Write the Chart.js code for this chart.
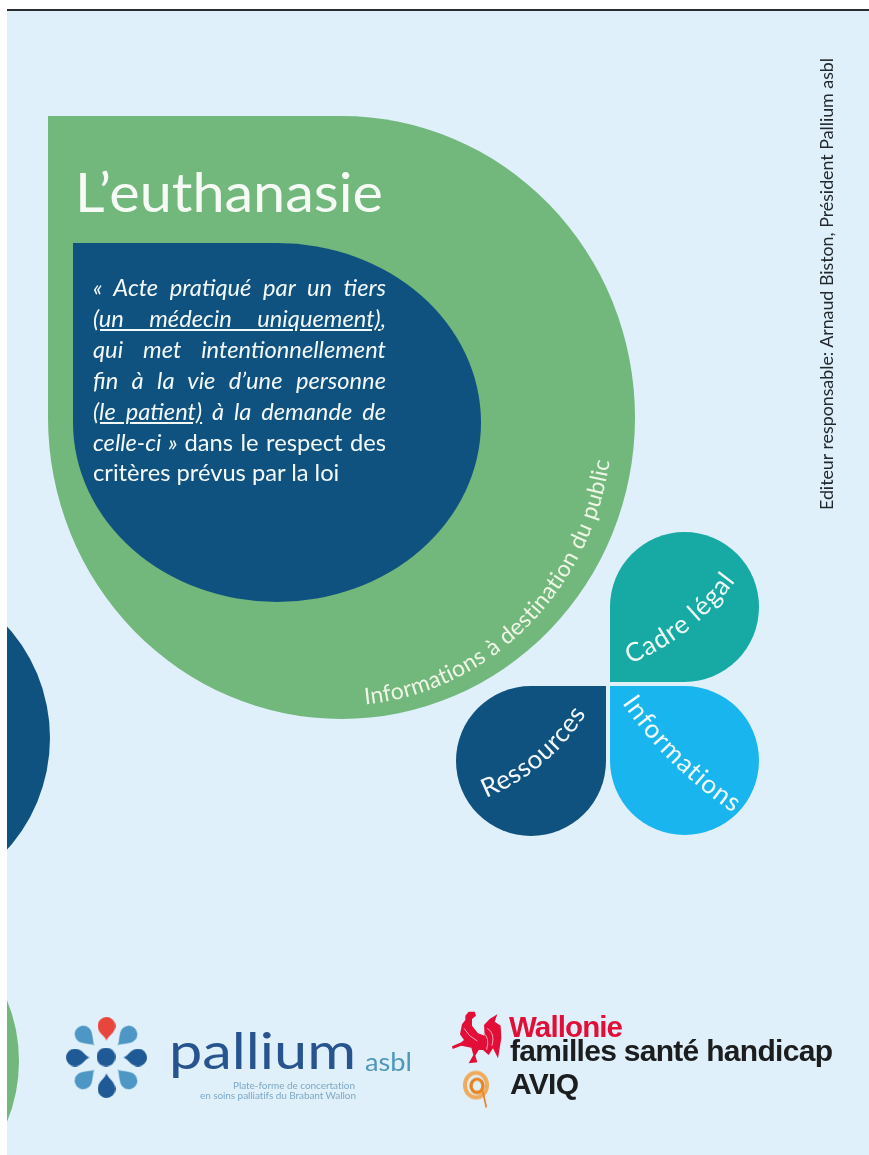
<!DOCTYPE html>
<html lang="fr">
<head>
<meta charset="utf-8">
<title>L'euthanasie</title>
<script src="https://cdn.jsdelivr.net/npm/chart.js@4"></script>
<style>
html, body { margin: 0; padding: 0; background: #fff; }
#page { position: relative; width: 869px; height: 1155px; overflow: hidden; font-variant-ligatures: none; }
#page canvas { position: absolute; left: 0; top: 0; }
#rule { position: absolute; left: 7px; top: 9px; width: 862px; height: 2px; background: #2a2d30; }
#labels { position: absolute; left: 0; top: 0; }
.ln { position: absolute; left: 93px; width: 293px; color: #f4fafa; font: italic 23.7px/26px Lato, sans-serif; white-space: nowrap; text-align: justify; text-align-last: justify; }
.ln.last { text-align-last: left; }
.ln span { font-style: normal; }
</style>
</head>
<body>
<div id="page">
  <canvas id="cover" width="869" height="1155"></canvas>
  <div id="rule"></div>
  <svg id="labels" width="869" height="1155" font-family="Lato, sans-serif">
    <defs>
      <path id="pathPublic" d="M 365 704.4 A 272 288 0 0 0 611 450"/>
      <path id="pathCadre" d="M 630 664 Q 698 636 742 572"/>
      <path id="pathRessources" d="M 486 798 Q 553 770 590 708"/>
      <path id="pathInformations" d="M 622 703 Q 668 770 738 816"/>
    </defs>
    <text x="75" y="211.5" font-size="54" fill="#f6fbf6" textLength="308" lengthAdjust="spacingAndGlyphs">L’euthanasie</text>
    <text font-size="23" fill="#eef6e6" textLength="372"><textPath href="#pathPublic">Informations à destination du public</textPath></text>
    <text font-size="26" fill="#eefaf6" textLength="136"><textPath href="#pathCadre">Cadre légal</textPath></text>
    <text font-size="26" fill="#f2f8fb" textLength="133"><textPath href="#pathRessources">Ressources</textPath></text>
    <text font-size="26" fill="#f2fbfe" textLength="157"><textPath href="#pathInformations">Informations</textPath></text>
    <text transform="translate(833 510) rotate(-90)" font-size="17" fill="#23282c" textLength="452" lengthAdjust="spacingAndGlyphs">Editeur responsable: Arnaud Biston, Président Pallium asbl</text>
    <text x="169" y="1069" font-size="50" fill="#27548f" textLength="187" lengthAdjust="spacingAndGlyphs">pallium</text>
    <text x="365" y="1071" font-size="25" fill="#4f97b8" textLength="47" lengthAdjust="spacingAndGlyphs">asbl</text>
    <text x="233" y="1089" font-size="10" fill="#7ea8c6" textLength="122">Plate-forme de concertation</text>
    <text x="200" y="1099" font-size="10" fill="#7ea8c6" textLength="156">en soins palliatifs du Brabant Wallon</text>
    <g font-family="'Liberation Sans', Arial, sans-serif" font-weight="700">
      <text x="509" y="1037" font-size="29.5" fill="#e20e38" textLength="114">Wallonie</text>
      <text x="510" y="1061" font-size="30" fill="#1c1d1f" textLength="323">familles santé handicap</text>
      <text x="510" y="1094" font-size="30" fill="#1c1d1f" textLength="69">AVIQ</text>
    </g>
  </svg>
  <div class="ln" style="top:274px">« Acte pratiqué par un tiers</div>
  <div class="ln" style="top:305px"><u>(un médecin uniquement)</u>,</div>
  <div class="ln" style="top:336px">qui met intentionnellement</div>
  <div class="ln" style="top:367px">fin à la vie d’une personne</div>
  <div class="ln" style="top:398px"><u>(le patient)</u> à la demande de</div>
  <div class="ln" style="top:429px">celle-ci » <span>dans le respect des</span></div>
  <div class="ln last" style="top:459px"><span>critères prévus par la loi</span></div>
</div>
<script>
// big drops and circles of the cover
const shapeX = [341.5, 277, 684.5, 684.5, 531, -117, -142];
const shapeY = [417.5, 422.5, 607, 760.5, 761, 738, 1061];
const shapeW = [587, 408, 149, 149, 150, 334, 322];
const shapeH = [603, 359, 150, 149, 150, 334, 322];
const shapeCorner = ["tl", "tl", "bl", "tl", "tr", null, null];
const shapeColor = ["#72b77b", "#10527f", "#17a9a3", "#19b5ee", "#10527f", "#10527f", "#72b77b"];

// pallium flower, turn is the direction the tip points to in degrees
const petalX = [106.5, 126, 135, 126, 106.5, 86, 78, 86];
const petalY = [1029, 1037, 1057.5, 1078, 1085.5, 1078, 1057.5, 1037];
const petalLength = [24, 25, 24, 25, 25, 25, 24, 25];
const petalWidth = [18, 17, 18, 17, 18, 17, 18, 17];
const petalTurn = [90, 135, 180, 225, 270, 315, 0, 45];
const petalColor = ["#e8453c", "#4e96c3", "#1f5a96", "#4e96c3", "#1f5a96", "#4e96c3", "#1f5a96", "#4e96c3"];

function makeDrop(w, h, corner, color) {
    const c = document.createElement("canvas");
    c.width = Math.ceil(w);
    c.height = Math.ceil(h);
    const g = c.getContext("2d");
    g.fillStyle = color;
    g.beginPath();
    g.ellipse(w / 2, h / 2, w / 2, h / 2, 0, 0, Math.PI * 2);
    g.fill();
    if (corner) {
        g.fillRect(corner[1] === "l" ? 0 : w / 2, corner[0] === "t" ? 0 : h / 2, w / 2, h / 2);
    }
    return c;
}

function makePetal(len, w, color) {
    const c = document.createElement("canvas");
    c.width = len;
    c.height = w;
    const g = c.getContext("2d");
    g.fillStyle = color;
    g.beginPath();
    g.arc(w / 2, w / 2, w / 2, Math.PI / 2, Math.PI * 1.5);
    g.bezierCurveTo(w * 0.9, 0, len - 4, w / 2, len, w / 2);
    g.bezierCurveTo(len - 4, w / 2, w * 0.9, w, w / 2, w);
    g.fill();
    return c;
}

function makeRooster() {
    const c = document.createElement("canvas");
    c.width = 60;
    c.height = 70;
    const g = c.getContext("2d");
    g.scale(1 / 3, 1 / 3);
    g.fillStyle = "#e20e38";
    g.fill(new Path2D("M52 32 L62 20 L80 20 L84 32 L72 42 L72 62 L90 85 L110 92 L108 60 L125 42 L148 28 L140 50 L158 62 L160 100 L150 160 L135 130 L122 150 L105 135 L92 135 L82 152 L88 172 L62 175 L76 150 L70 128 L40 122 L14 132 L12 124 L40 112 L48 105 L36 88 L42 58 L52 45 Z"));
    g.strokeStyle = "#f3a9b8";
    g.lineWidth = 3;
    g.stroke(new Path2D("M118 70 Q142 85 132 122 M106 84 Q126 98 116 134 M48 70 Q62 95 88 108"));
    return c;
}

function makeAviq() {
    const c = document.createElement("canvas");
    c.width = 60;
    c.height = 45;
    const g = c.getContext("2d");
    g.scale(1 / 3, 1 / 3);
    g.lineWidth = 12;
    g.strokeStyle = "#f0aa5c";
    g.beginPath();
    g.ellipse(84, 53, 33, 37, 0, 0, Math.PI * 2);
    g.stroke();
    g.strokeStyle = "#e8841f";
    g.lineWidth = 10;
    g.beginPath();
    g.ellipse(87, 55, 18, 20, 0, 0, Math.PI * 2);
    g.stroke();
    g.lineWidth = 5;
    g.beginPath();
    g.moveTo(104, 70);
    g.lineTo(115, 120);
    g.stroke();
    return c;
}

const points = [];
const images = [];
const turns = [];
shapeX.forEach((x, i) => {
    points.push({ x: x, y: shapeY[i], r: shapeW[i] / 2 });
    images.push(makeDrop(shapeW[i], shapeH[i], shapeCorner[i], shapeColor[i]));
    turns.push(0);
});
petalX.forEach((x, i) => {
    points.push({ x: x, y: petalY[i], r: petalLength[i] / 2 });
    images.push(makePetal(petalLength[i], petalWidth[i], petalColor[i]));
    turns.push(petalTurn[i]);
});
points.push({ x: 106, y: 1057, r: 9.5 });
images.push(makeDrop(19, 19, null, "#1f5a96"));
turns.push(0);
points.push({ x: 478, y: 1040, r: 30 });
images.push(makeRooster());
turns.push(0);
points.push({ x: 478, y: 1090, r: 22 });
images.push(makeAviq());
turns.push(0);

const coverBackground = {
    id: "coverBackground",
    beforeDatasetsDraw(chart) {
        const a = chart.chartArea;
        chart.ctx.fillStyle = "#dff0fa";
        chart.ctx.fillRect(a.left, a.top, a.width, a.height);
    }
};

new Chart(document.getElementById("cover").getContext("2d"), {
    type: "bubble",
    data: {
        datasets: [{
            data: points,
            pointStyle: images,
            rotation: turns,
            borderWidth: 0,
            clip: 0
        }]
    },
    options: {
        responsive: false,
        animation: false,
        events: [],
        layout: { autoPadding: false, padding: { left: 7, top: 11 } },
        plugins: { legend: { display: false }, tooltip: { enabled: false } },
        scales: {
            x: { type: "linear", min: 7, max: 869, display: false },
            y: { type: "linear", min: 11, max: 1155, reverse: true, display: false }
        }
    },
    plugins: [coverBackground]
});
</script>
</body>
</html>
